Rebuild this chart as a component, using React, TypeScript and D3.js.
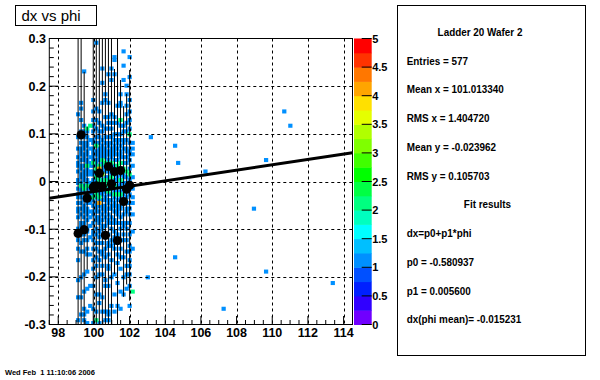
import React from 'react';
import * as d3 from 'd3';

// ---------- data ----------
const X_RANGE: [number, number] = [97.5, 114.5];
const Y_RANGE: [number, number] = [-0.3, 0.3];
const NX = 100;
const NY = 100;
const Z_MAX = 5;

const xTicks = [98, 100, 102, 104, 106, 108, 110, 112, 114];
const yTicks = [-0.3, -0.2, -0.1, 0, 0.1, 0.2, 0.3];
const yTickLabels = ['-0.3', '-0.2', '-0.1', '0', '0.1', '0.2', '0.3'];
const zTicks = [0, 0.5, 1, 1.5, 2, 2.5, 3, 3.5, 4, 4.5, 5];
const zTickLabels = ['0', '0.5', '1', '1.5', '2', '2.5', '3', '3.5', '4', '4.5', '5'];

// 2D histogram: one string per x bin (first = bin 9), y bins from top (0.3) to bottom (-0.3)
const firstColumnBin = 9;
const columns: string[] = [
  '.................... ......1.......1...1. .1.11.1..11.1.11.1.1 1.1...1...1..1...1.. ....1.....1.......1.',
  '.................... ..1.1...1...1.1.1.11 1.1.11.11.1211.1.1.1 .1..11..1..1..1..... ...1......1.....1...',
  '...........1........ ..........1.1.1.111. 111.1.1111.121.11.11 1.1.1.1.1.1...1..... ..1.....1.....1...1.',
  '.................... ...........21.1.11.1 1.112111.1121.11.1.1 11.1..11..1..1.1.... .1.....1.......1...1',
  '.................... ..........2....1..1. .1.11.11..1.1.11.1.. 1.1..1...1.....1.... ......1......1......',
  '.................... .1...1..1.1.1..11.11 11121.11.11211121.1. 11..1..11.1..1...1.. 1.....1.......1....1',
  '.1.................. ....1...1..1..1.12.1 1.11121.2112.121.111 1.11..1.1..1.1..1..1 ...1.....1.....1....',
  '.................... .....1...1..1.1.1.11 111.241.1211.112141. 1.111..1.1.1..1..1.. ..1......1..1.......',
  '..........1....1.... ..1.......1.1..1.111 11211113.1.2.11.1.11 .1.1.11.1..1..11...1 ..1.......1....1....',
  '...................1 .1.....1...1..1.1.11 11.2.11.121211.11.11 1.1..1..11...1..1... ....1.1........1..1.',
  '............1....... ..1....1.1.1..1.11.1 1.11.21.112.121.11.1 .1.11...1..11..1...1 1.....1........1....',
  '..........1...1..... ......1..1.1..1.1.11 11.2.1112.121.1.1.11 ..1.1.1...1.1....1.. ...1.........1......',
  '......11....1....... .......1.1...1.1.111 1.1.1.21.112.121.11. 1..11..1.1.1.1...... ..1......1.....1....',
  '.................... ...1.....1...1.11.1. 1.1.2.1.11.1.12.1.11 11..1...1..1...1..1. .....1.......1......',
  '...................1 ..11....2.1..1.1.1.1 11.2.1.1.211.1211.11 ..1.1.1...1..1..1... 1.......1.....1.....',
  '....1....1....1..... ..........1.1..11.1. .1.1.2.11.1.1.1.11.. .1..11..1.1.....1... ...1.....1..........',
  '................1..1 ...1..1..1..1..1..11 .1.1..2.1.111..1.1.1 1...1.1...1...1....1 ..1....1............',
  '......1......1...... .1...1..1..1.2..1..1 1.1..1.2.1.11.1..1.1 .1..1...1...1.1..1.1 ..1...1......1......',
  '.................... ................1.1. 1...1...1...1..1.1.. .1.....1.....1...... ........2...........',
];

// isolated entries outside the dense band: [phi, dx]
const outlierX = [103.2, 104.54, 104.69, 106.28, 109.62, 110.65, 110.98, 108.97, 104.54, 109.64, 113.38, 107.29, 103.01, 99.5, 100.06, 100.21, 100.34, 100.84, 100.84];
const outlierY = [0.094, 0.075, 0.039, 0.021, 0.045, 0.146, 0.117, -0.057, -0.158, -0.189, -0.212, -0.268, -0.2, -0.278, -0.289, -0.289, -0.295, -0.278, -0.289];

// profile: bin centres, means, errors
const profX = [99.115, 99.285, 99.455, 99.625, 99.965, 100.135, 100.305, 100.475, 100.645, 100.815, 100.985, 101.155, 101.325, 101.495, 101.665, 101.835, 102.005];
const profY = [-0.109, 0.098, -0.101, -0.035, -0.012, -0.009, 0.0175, -0.01, -0.113, 0.0315, -0.005, 0.021, -0.124, 0.023, -0.042, -0.016, -0.008];
const profErr = [0.5, 0.5, 0.331, 0.15, 0.5, 0.5, 0.5, 0.5, 0.5, 0.5, 0.5, 0.215, 0.5, 0.19, 0.2, 0.2, 0.242];

const fitP0 = -0.580937;
const fitP1 = 0.0056;

const palette = [
  '#7000ff', '#3000ff', '#0020ff', '#0050ff', '#0090ff', '#00bfff', '#00ffff', '#00ffbf', '#00ff80', '#00ff44',
  '#00ff00', '#40ff00', '#7fff00', '#b0ff00', '#e5ff00', '#ffe000', '#ffa500', '#ff7700', '#ff3300', '#ff0000',
];

const title = 'dx vs phi';
const statsLines = [
  'Ladder 20 Wafer 2', 'Entries = 577', 'Mean x = 101.013340', 'RMS x = 1.404720', 'Mean y = -0.023962', 'RMS y = 0.105703',
  'Fit results', 'dx=p0+p1*phi', 'p0 = -0.580937', 'p1 = 0.005600', 'dx(phi mean)= -0.015231',
];
const statsCentered = [true, false, false, false, false, false, true, false, false, false, false];
const dateText = 'Wed Feb  1 11:10:06 2006';

// ---------- component ----------
export default function App() {
  const W = 600, H = 380;
  const L = 49.3, R = 352.5, T = 38.5, B = 324.5;
  const x = d3.scaleLinear().domain(X_RANGE).range([L, R]);
  const y = d3.scaleLinear().domain(Y_RANGE).range([B, T]);
  const dx = (X_RANGE[1] - X_RANGE[0]) / NX;
  const dy = (Y_RANGE[1] - Y_RANGE[0]) / NY;

  const counts = new Map<string, number>();
  columns.forEach((col, c) => {
    const s = col.replace(/ /g, '').padEnd(NY, '.').slice(0, NY);
    for (let i = 0; i < NY; i++) {
      const ch = s[i];
      if (ch >= '1' && ch <= '9') {
        const k = firstColumnBin + c;
        const j = NY - 1 - i;
        const key = k + ',' + j;
        counts.set(key, (counts.get(key) || 0) + Number(ch));
      }
    }
  });
  outlierX.forEach((vx, n) => {
    const k = Math.floor((vx - X_RANGE[0]) / dx);
    const j = Math.floor((outlierY[n] - Y_RANGE[0]) / dy);
    const key = k + ',' + j;
    counts.set(key, (counts.get(key) || 0) + 1);
  });
  const cells = Array.from(counts.entries()).map(([key, v]) => {
    const [k, j] = key.split(',').map(Number);
    return { k, j, v };
  }).sort((a, b) => a.v - b.v);
  const colorOf = (v: number) => palette[Math.max(0, Math.min(palette.length - 1, Math.floor(v / (Z_MAX / palette.length))))];

  const xMinor = d3.range(X_RANGE[0], X_RANGE[1] + 0.001, 0.5).filter((v) => Math.abs(v / 2 - Math.round(v / 2)) > 1e-6);
  const yMinor = d3.range(-0.3, 0.3001, 0.02).filter((v) => Math.abs(v * 10 - Math.round(v * 10)) > 1e-6);

  const zScale = d3.scaleLinear().domain([0, Z_MAX]).range([B, T]);
  const CBL = 354, CBR = 371.7;
  const levels = d3.range(palette.length);
  const levelW = Z_MAX / palette.length;

  const fitLine = d3.line<number>().x((v) => x(v)).y((v) => y(fitP0 + fitP1 * v));

  const labelFont = '"Liberation Sans", Arial, Helvetica, sans-serif';
  const cw = x(X_RANGE[0] + dx) - x(X_RANGE[0]);
  const ch = y(Y_RANGE[0]) - y(Y_RANGE[0] + dy);

  return (
    <svg width={W} height={H} style={{ position: 'absolute', left: 0, top: 0, background: '#fff' }} xmlns="http://www.w3.org/2000/svg">
      <rect x={0} y={0} width={W} height={H} fill="#fff" />
      <defs>
        <clipPath id="plotClip">
          <rect x={L} y={T} width={R - L} height={B - T} />
        </clipPath>
      </defs>
      {/* histogram cells */}
      <g clipPath="url(#plotClip)">
        {cells.map((c, n) => {
          const x0 = X_RANGE[0] + c.k * dx;
          const y0 = Y_RANGE[0] + c.j * dy;
          return (
            <rect key={n} x={x(x0) - 0.6} y={y(y0 + dy) - 0.6} width={cw + 1.2} height={ch + 1.2} fill={colorOf(c.v)} />
          );
        })}
      </g>
      {/* grid */}
      <g stroke="#000" strokeWidth={1} strokeDasharray="3,3">
        {xTicks.map((t) => (
          <line key={'gx' + t} x1={Math.round(x(t)) + 0.5} x2={Math.round(x(t)) + 0.5} y1={T} y2={B} />
        ))}
        {yTicks.slice(1, -1).map((t) => (
          <line key={'gy' + t} x1={L} x2={R} y1={Math.round(y(t)) + 0.5} y2={Math.round(y(t)) + 0.5} />
        ))}
      </g>
      {/* profile error bars */}
      <g stroke="#000" strokeWidth={1}>
        {profX.map((px, n) => {
          const top = Math.min(Y_RANGE[1], profY[n] + profErr[n]);
          const bot = Math.max(Y_RANGE[0], profY[n] - profErr[n]);
          return <line key={'e' + n} x1={x(px)} x2={x(px)} y1={y(top)} y2={y(bot)} />;
        })}
      </g>
      {/* fit */}
      <path d={fitLine([X_RANGE[0], X_RANGE[1]]) || ''} stroke="#000" strokeWidth={3} fill="none" />
      {/* profile markers */}
      <g fill="#000">
        {profX.map((px, n) => (
          <circle key={'m' + n} cx={x(px)} cy={y(profY[n])} r={4.6} />
        ))}
      </g>
      {/* frame */}
      <rect x={L} y={T} width={R - L} height={B - T} fill="none" stroke="#000" strokeWidth={1} />
      {/* axes ticks */}
      <g stroke="#000" strokeWidth={1}>
        {xTicks.map((t) => (
          <line key={'tx' + t} x1={x(t)} x2={x(t)} y1={B} y2={B - 8.5} />
        ))}
        {xMinor.map((t) => (
          <line key={'mx' + t} x1={x(t)} x2={x(t)} y1={B} y2={B - 4.5} />
        ))}
        {yTicks.map((t) => (
          <line key={'ty' + t} x1={L} x2={L + 9} y1={y(t)} y2={y(t)} />
        ))}
        {yMinor.map((t) => (
          <line key={'my' + t} x1={L} x2={L + 4.5} y1={y(t)} y2={y(t)} />
        ))}
      </g>
      <g fontFamily={labelFont} fontWeight="bold" fontSize={12.5} fill="#000">
        {xTicks.map((t) => (
          <text key={'lx' + t} x={x(t)} y={337} textAnchor="middle">{t}</text>
        ))}
        {yTicks.map((t, n) => (
          <text key={'ly' + t} x={46} y={y(t) + 4.5} textAnchor="end">{yTickLabels[n]}</text>
        ))}
      </g>
      {/* color bar */}
      <g>
        {levels.map((l) => (
          <rect key={'cb' + l} x={CBL} width={CBR - CBL} y={zScale((l + 1) * levelW)} height={zScale(l * levelW) - zScale((l + 1) * levelW) + 0.5} fill={palette[l]} />
        ))}
        <g stroke="#000" strokeWidth={1}>
          {zTicks.map((t) => (
            <line key={'zt' + t} x1={CBR - 10} x2={CBR} y1={zScale(t)} y2={zScale(t)} />
          ))}
        </g>
        <g fontFamily={labelFont} fontWeight="bold" fontSize={11} fill="#000">
          {zTicks.map((t, n) => (
            <text key={'zl' + t} x={CBR + 0.5} y={zScale(t) + 4}>{zTickLabels[n]}</text>
          ))}
        </g>
      </g>
      {/* title */}
      <rect x={15.5} y={5.5} width={81} height={20} fill="#fff" stroke="#000" strokeWidth={1} />
      <text x={21.5} y={20.5} fontFamily={labelFont} fontSize={15} fill="#000">{title}</text>
      {/* stats */}
      <rect x={397.5} y={5.5} width={188} height={350} fill="#fff" stroke="#000" strokeWidth={1} />
      <g fontFamily={labelFont} fontWeight="bold" fontSize={11} fill="#000">
        {statsLines.map((s, n) => {
          const by = 36 + n * 28.73;
          const cx = n === 0 ? 480 : 487.5;
          return statsCentered[n] ? (
            <g key={'s' + n} transform={`translate(${cx},${by}) scale(0.9,1)`}>
              <text x={0} y={0} textAnchor="middle">{s}</text>
            </g>
          ) : (
            <g key={'s' + n} transform={`translate(406.7,${by}) scale(0.9,1)`}>
              <text x={0} y={0}>{s}</text>
            </g>
          );
        })}
      </g>
      <text x={5} y={375} fontFamily={labelFont} fontWeight="bold" fontSize={7.5} fill="#000" style={{ whiteSpace: 'pre' }}>{dateText}</text>
    </svg>
  );
}
